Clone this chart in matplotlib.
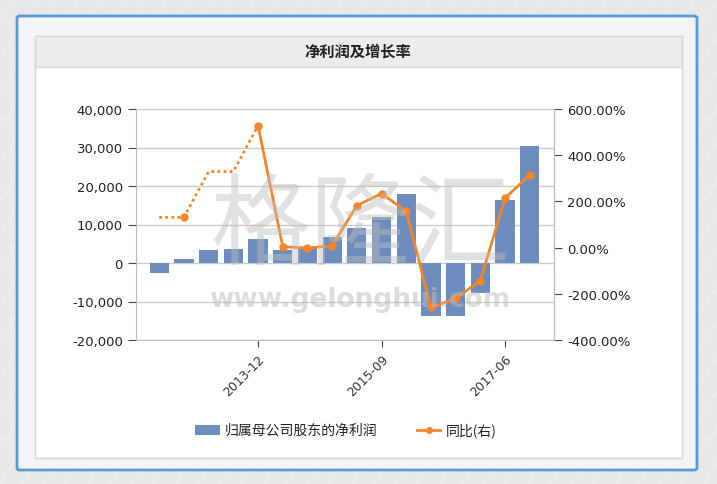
import numpy as np
import matplotlib.pyplot as plt
from matplotlib.patches import Rectangle, FancyBboxPatch
from matplotlib.lines import Line2D
from matplotlib.ticker import FuncFormatter

plt.rcParams['font.family'] = ['DejaVu Sans', 'Noto Sans CJK SC']

# data
periods = ['2011-12', '2012-06', '2012-12', '2013-06', '2013-12', '2014-06',
           '2014-12', '2015-03', '2015-06', '2015-09', '2015-12', '2016-06',
           '2016-12', '2017-03', '2017-06', '2017-09']
net_profit = [-2700, 1040, 3300, 3650, 6170, 3300, 3900, 6870, 9130, 12000,
              17830, -13740, -13740, -7910, 16260, 30430]
yoy = [131, 131, 329, 329, 528, 4, -2, 8, 182, 234, 157, -259, -220, -143, 215, 314]
yoy_dotted_upto = 4          # first part of the ratio is drawn dotted
yoy_no_marker = [0, 2, 3]    # points on the dotted part without a marker
shown_ticks = [4, 9, 14]
left_ticks = [-20000, -10000, 0, 10000, 20000, 30000, 40000]
right_ticks = [-400, -200, 0, 200, 400, 600]

bar_color = '#6d8dbf'
line_color = '#f5852a'
W, H = 717, 485

def fx(x):
    return x / W

def fy(y):
    return 1 - y / H

fig = plt.figure(figsize=(W / 100, H / 100), dpi=100)
fig.patch.set_facecolor('#e8e8e8')

# striped background
for k in range(-30, 40):
    x0 = k * 22
    fig.add_artist(Line2D([fx(x0), fx(x0 + 300)], [fy(485), fy(0)], transform=fig.transFigure,
                          color='white', lw=0.8, alpha=0.3, zorder=0))

# outer blue frame and inner panels
fig.add_artist(FancyBboxPatch((fx(17), fy(471)), fx(680), 454 / H, boxstyle='round,pad=0,rounding_size=0.004',
                              transform=fig.transFigure, facecolor='#f2f4f5', edgecolor='#5b9bd5', lw=2, zorder=1))
fig.add_artist(Rectangle((fx(35), fy(459)), fx(647), 422 / H, transform=fig.transFigure,
                         facecolor='white', edgecolor='#d6d6d6', lw=1, zorder=1))
fig.add_artist(Rectangle((fx(35), fy(68)), fx(647), 31 / H, transform=fig.transFigure,
                         facecolor='#ececec', edgecolor='#d6d6d6', lw=1, zorder=1))
fig.text(fx(358), fy(52), '净利润及增长率', ha='center', va='center', fontsize=11, fontweight='bold',
         color='#222222', family=['Noto Sans CJK SC', 'DejaVu Sans'], zorder=2)

ax = fig.add_axes([fx(136), fy(341), fx(554 - 136), (341 - 110) / H], zorder=3)
ax.patch.set_alpha(0)
x = np.arange(len(periods))

ax.bar(x, net_profit, width=0.78, color=bar_color, zorder=2)
ax.set_ylim(-20000, 40000)
ax.set_yticks(left_ticks)
ax.yaxis.set_major_formatter(FuncFormatter(lambda v, p: f'{int(v):,}'))
ax.grid(axis='y', color='#cccccc', lw=1, zorder=0)
ax.set_axisbelow(True)
ax.set_xlim(-0.94, 15.98)
ax.set_xticks(shown_ticks)
ax.set_xticklabels([periods[i] for i in shown_ticks], rotation=45, ha='right', rotation_mode='anchor',
                   fontsize=9, color='#333333')
ax.tick_params(axis='y', labelsize=9.5, colors='#222222', length=6, color='#444444')
ax.tick_params(axis='x', length=5, color='#444444', pad=4)
ax.spines['top'].set_visible(False)
for s in ['left', 'right', 'bottom']:
    ax.spines[s].set_color('#bbbbbb')

ax2 = ax.twinx()
ax2.set_ylim(-400, 600)
ax2.set_yticks(right_ticks)
ax2.yaxis.set_major_formatter(FuncFormatter(lambda v, p: f'{v:.2f}%'))
ax2.tick_params(axis='y', labelsize=9.5, colors='#222222', length=6, color='#444444')
for s in ['top', 'left', 'bottom']:
    ax2.spines[s].set_visible(False)
ax2.spines['right'].set_color('#bbbbbb')

n = yoy_dotted_upto
ax2.plot(x[:n + 1], yoy[:n + 1], color=line_color, lw=2, ls=(0, (1, 1.2)), zorder=3)
ax2.plot(x[n:], yoy[n:], color=line_color, lw=2, zorder=3)
mk = [i for i in range(len(yoy)) if i not in yoy_no_marker]
ax2.plot(x[mk], np.array(yoy)[mk], ls='none', marker='o', ms=5, color=line_color, zorder=4)

# watermark
fig.text(fx(360), fy(228), '格隆汇', ha='center', va='center', fontsize=72, fontweight='light',
         color='#bdbdbd', alpha=0.45, family=['Noto Sans CJK SC'], zorder=10)
fig.text(fx(360), fy(300), 'www.gelonghui.com', ha='center', va='center', fontsize=19, fontweight='bold',
         color='#bdbdbd', alpha=0.5, zorder=10)

# legend
fig.add_artist(Rectangle((fx(195), fy(436)), fx(25), 10 / H, transform=fig.transFigure,
                         facecolor=bar_color, edgecolor='none', zorder=5))
fig.text(fx(225), fy(431), '归属母公司股东的净利润', ha='left', va='center', fontsize=10, color='#222222',
         family=['Noto Sans CJK SC', 'DejaVu Sans'], zorder=5)
fig.add_artist(Line2D([fx(417), fx(440)], [fy(431), fy(431)], transform=fig.transFigure,
                      color=line_color, lw=2, zorder=5))
fig.add_artist(Line2D([fx(428.5)], [fy(431)], transform=fig.transFigure, marker='o', ms=4,
                      color=line_color, zorder=5))
fig.text(fx(446), fy(431), '同比(右)', ha='left', va='center', fontsize=10, color='#222222',
         family=['Noto Sans CJK SC', 'DejaVu Sans'], zorder=5)

fig.savefig('out.png', dpi=100, facecolor=fig.get_facecolor())
